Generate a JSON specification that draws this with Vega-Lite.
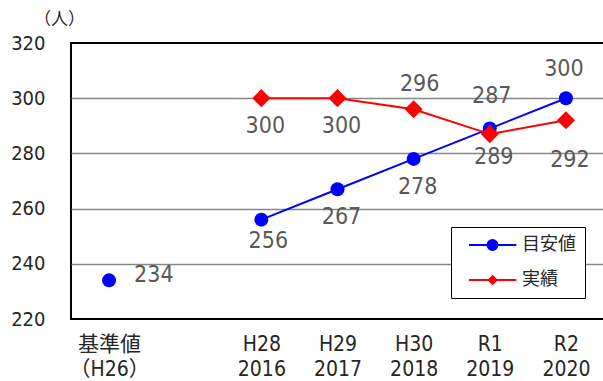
{
  "$schema": "https://vega.github.io/schema/vega-lite/v6.json",
  "autosize": "none",
  "width": 533,
  "height": 276,
  "padding": {"left": 71, "top": 43, "right": 0, "bottom": 62},
  "background": "#ffffff",
  "config": {
    "view": {"stroke": "#000000", "strokeWidth": 2},
    "font": "DejaVu Sans Condensed, Liberation Sans, Noto Sans CJK JP, sans-serif"
  },
  "data": {
    "values": [
      {"series": "目安値", "period": "基準値|（H26）", "value": 234},
      {"series": "目安値", "period": "H28|2016", "value": 256},
      {"series": "目安値", "period": "H29|2017", "value": 267},
      {"series": "目安値", "period": "H30|2018", "value": 278},
      {"series": "目安値", "period": "R1|2019", "value": 289},
      {"series": "目安値", "period": "R2|2020", "value": 300},
      {"series": "実績", "period": "H28|2016", "value": 300},
      {"series": "実績", "period": "H29|2017", "value": 300},
      {"series": "実績", "period": "H30|2018", "value": 296},
      {"series": "実績", "period": "R1|2019", "value": 287},
      {"series": "実績", "period": "R2|2020", "value": 292}
    ]
  },
  "encoding": {
    "x": {
      "field": "period",
      "type": "nominal",
      "scale": {
        "type": "point",
        "padding": 0.5,
        "domain": ["基準値|（H26）", " ", "H28|2016", "H29|2017", "H30|2018", "R1|2019", "R2|2020"]
      },
      "axis": {
        "title": null,
        "domain": false,
        "ticks": false,
        "grid": false,
        "labelAngle": 0,
        "labelExpr": "datum.value == ' ' ? '' : split(datum.value, '|')",
        "labelFontSize": 21,
        "labelLineHeight": 25,
        "labelPadding": 14,
        "labelColor": "#262626"
      }
    },
    "y": {
      "field": "value",
      "type": "quantitative",
      "scale": {"domain": [220, 320], "nice": false, "zero": false},
      "axis": {
        "values": [220, 240, 260, 280, 300, 320],
        "domain": false,
        "ticks": false,
        "labelPadding": 26,
        "labelFontSize": 20,
        "labelColor": "#262626",
        "gridColor": "#868686",
        "gridWidth": 1.5,
        "gridOpacity": {"condition": {"test": "datum.value == 220 || datum.value == 320", "value": 0}, "value": 1},
        "title": "（人）",
        "titleAngle": 0,
        "titleX": -12,
        "titleY": -24,
        "titleAlign": "center",
        "titleBaseline": "middle",
        "titleFontSize": 17,
        "titleFontWeight": "normal",
        "titleColor": "#262626"
      }
    }
  },
  "layer": [
    {
      "transform": [{"filter": "datum.period != '基準値|（H26）'"}],
      "mark": {"type": "line", "strokeWidth": 2},
      "encoding": {
        "color": {
          "field": "series",
          "type": "nominal",
          "sort": ["目安値", "実績"],
          "scale": {"domain": ["目安値", "実績"], "range": ["#0000ff", "#ff0000"]},
          "legend": {
            "title": null,
            "orient": "none",
            "legendX": 380,
            "legendY": 184,
            "strokeColor": "#000000",
            "fillColor": "#ffffff",
            "padding": 9,
            "symbolSize": 121,
            "symbolStrokeWidth": 2,
            "labelFontSize": 18,
            "labelColor": "#262626",
            "labelOffset": 44,
            "rowPadding": 17,
            "encode": {
              "symbols": {
                "update": {
                  "shape": {"signal": "datum.value == '目安値' ? 'M0,0H8.6M5.17,0A0.9,0.9,0,1,1,3.37,0A0.9,0.9,0,1,1,5.17,0Z' : 'M0,0H8.6M4.3,-0.7L5.0,0L4.3,0.7L3.6,0Z'"},
                  "size": {"value": 121},
                  "opacity": {"value": 1},
                  "strokeWidth": {"value": 2},
                  "stroke": {"signal": "datum.value == '目安値' ? '#0000ff' : '#ff0000'"},
                  "fill": {"signal": "datum.value == '目安値' ? '#0000ff' : '#ff0000'"}
                }
              }
            }
          }
        }
      }
    },
    {
      "transform": [{"filter": "datum.series == '目安値'"}],
      "mark": {"type": "point", "shape": "circle", "filled": true, "opacity": 1, "size": 196, "color": "#0000ff"}
    },
    {
      "transform": [{"filter": "datum.series == '実績'"}],
      "mark": {"type": "point", "shape": "diamond", "filled": true, "opacity": 1, "size": 330, "color": "#ff0000"}
    },
    {
      "transform": [{"filter": "(datum.series == '目安値' && indexof(['H29|2017', 'H30|2018', 'R1|2019'], datum.period) >= 0) || (datum.series == '実績' && indexof(['H28|2016', 'H29|2017'], datum.period) >= 0)"}],
      "mark": {"type": "text", "fontSize": 23, "color": "#595959", "baseline": "alphabetic", "align": "center", "dx": 4, "dy": 35},
      "encoding": {"text": {"field": "value", "type": "quantitative"}}
    },
    {
      "transform": [{"filter": "datum.series == '目安値' && datum.period == 'H28|2016'"}],
      "mark": {"type": "text", "fontSize": 23, "color": "#595959", "baseline": "alphabetic", "align": "center", "dx": 7, "dy": 28},
      "encoding": {"text": {"field": "value", "type": "quantitative"}}
    },
    {
      "transform": [{"filter": "datum.series == '実績' && datum.period == 'R2|2020'"}],
      "mark": {"type": "text", "fontSize": 23, "color": "#595959", "baseline": "alphabetic", "align": "center", "dx": 4, "dy": 47},
      "encoding": {"text": {"field": "value", "type": "quantitative"}}
    },
    {
      "transform": [{"filter": "datum.series == '実績' && datum.period == 'H30|2018'"}],
      "mark": {"type": "text", "fontSize": 23, "color": "#595959", "baseline": "alphabetic", "align": "center", "dx": 6, "dy": -18},
      "encoding": {"text": {"field": "value", "type": "quantitative"}}
    },
    {
      "transform": [{"filter": "datum.series == '目安値' && datum.period == 'R2|2020'"}],
      "mark": {"type": "text", "fontSize": 23, "color": "#595959", "baseline": "alphabetic", "align": "center", "dx": -2, "dy": -22},
      "encoding": {"text": {"field": "value", "type": "quantitative"}}
    },
    {
      "transform": [{"filter": "datum.series == '実績' && datum.period == 'R1|2019'"}],
      "mark": {"type": "text", "fontSize": 23, "color": "#595959", "baseline": "alphabetic", "align": "center", "dx": 2, "dy": -31},
      "encoding": {"text": {"field": "value", "type": "quantitative"}}
    },
    {
      "transform": [{"filter": "datum.period == '基準値|（H26）'"}],
      "mark": {"type": "text", "fontSize": 23, "color": "#595959", "baseline": "alphabetic", "align": "left", "dx": 25, "dy": 2},
      "encoding": {"text": {"field": "value", "type": "quantitative"}}
    }
  ]
}
